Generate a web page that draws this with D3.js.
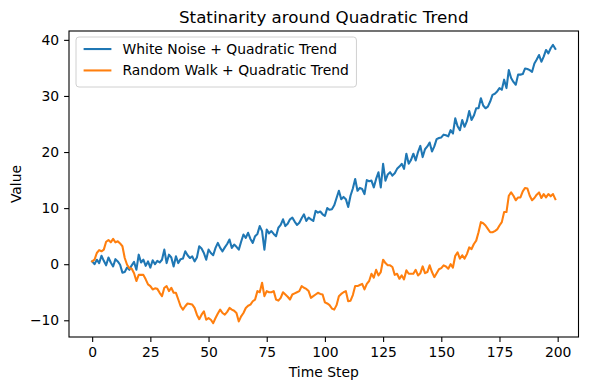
<!DOCTYPE html>
<html>
<head>
<meta charset="utf-8">
<script src="https://cdn.jsdelivr.net/npm/d3@7"></script>
<style>
  html, body { margin: 0; padding: 0; background: #fff; }
  svg { display: block; font-family: "DejaVu Sans", sans-serif; }
</style>
</head>
<body>
<svg id="chart" width="590" height="390"></svg>
<script>
// ---------- DATA ----------
const timeSteps = d3.range(0, 200);

const whiteNoiseQuadratic = [
  0.5, 0.0, 0.8, 0.2, 1.5, 0.6, -0.2, 1.2, 0.3, -0.4,
  0.9, 0.5, -0.1, -1.5, -1.4, -0.6, -1.0, -0.2, 0.4, -1.0,
  1.7, 0.3, 0.8, -0.3, 0.5, -0.6, 0.7, 0.0, 0.6, 0.3,
  0.8, 2.6, 0.2, 1.7, 1.2, -0.4, 1.4, 0.2, 0.9, 1.0,
  2.3, 1.6, 1.1, 1.4, 0.5, 1.2, 3.2, 2.8, 2.0, 0.8,
  2.6, 2.0, 1.6, 2.9, 3.8, 2.9, 2.3, 3.0, 3.6, 4.4,
  2.9, 3.5, 3.1, 2.6, 4.0, 5.3, 4.7, 5.6, 4.5, 3.8,
  5.0, 5.4, 6.8, 5.9, 2.6, 6.2, 5.5, 5.9, 5.4, 5.0,
  6.5, 7.0, 8.0, 6.8, 7.2, 8.0, 8.3, 7.6, 7.0, 7.4,
  8.2, 8.9, 7.7, 8.3, 8.0, 7.7, 9.5, 9.2, 9.4, 8.9,
  8.6, 10.0, 9.7, 9.8, 10.5, 11.8, 13.1, 11.6, 12.0, 11.6,
  10.2, 12.2, 13.5, 15.2, 13.1, 13.6, 13.4, 12.5, 15.0, 14.8,
  14.9, 13.7, 15.2, 16.4, 13.7, 17.9, 14.9, 16.0, 16.4, 15.8,
  16.2, 17.0, 17.4, 17.9, 17.0, 19.7, 17.9, 18.6, 19.7, 18.5,
  20.0, 21.1, 19.1, 20.5, 21.0, 21.7, 20.1, 21.0, 22.3, 22.5,
  22.6, 23.1, 23.0, 22.8, 23.9, 23.3, 26.0, 24.6, 23.9, 25.7,
  24.5, 25.5, 27.3, 25.7, 26.5, 27.8, 27.8, 29.6, 28.3, 27.8,
  28.1, 29.0, 30.2, 30.4, 30.8, 31.4, 31.1, 32.9, 31.4, 34.6,
  33.2, 32.5, 32.0, 33.8, 33.8, 33.9, 34.9, 34.8, 34.6, 34.3,
  35.8, 36.5, 37.3, 36.1, 37.0, 38.2, 37.6, 38.5, 39.1, 38.4
];

const randomWalkQuadratic = [
  0.5, 0.8, 2.0, 2.5, 2.3, 2.6, 4.0, 4.3, 3.9, 4.5,
  3.9, 4.1, 3.7, 3.2, 1.1, -0.1, -0.7, -0.8, -1.6, -3.0,
  -1.9, -1.9, -1.9, -2.7, -3.6, -3.9, -4.5, -4.3, -4.4, -5.1,
  -5.7, -4.2, -3.9, -4.8, -4.2, -5.1, -5.1, -6.3, -7.5, -8.1,
  -7.5, -7.0, -7.1, -7.2, -7.8, -9.0, -9.8, -9.0, -8.4, -9.9,
  -9.6, -9.9, -10.5, -9.6, -8.8, -8.1, -8.7, -9.0, -8.5, -7.8,
  -8.1, -8.3, -8.7, -10.2, -9.3, -8.7, -7.8, -7.4, -7.2, -6.6,
  -6.3, -4.8, -5.0, -3.3, -5.7, -4.8, -5.0, -5.0, -4.8, -6.3,
  -6.5, -6.0, -5.0, -5.4, -5.8, -6.3, -5.4, -5.2, -5.0, -4.8,
  -3.9, -4.2, -4.4, -4.8, -6.0, -5.7, -5.4, -5.1, -5.3, -5.4,
  -6.8, -7.0, -7.3, -7.9, -8.1, -7.3, -5.7, -5.3, -5.0, -4.8,
  -6.6, -6.5, -5.5, -3.9, -3.9, -3.7, -3.5, -4.5, -3.5, -3.0,
  -1.7, -2.4, -1.0, -2.0, -1.4, 0.8, 0.2, -0.2, -0.2, -0.5,
  -1.9, -1.7, -2.6, -2.0, -2.7, -1.1, -1.7, -1.7, -1.7, -1.0,
  -2.0, -1.6, -0.4, -1.6, -1.4, -0.2, -1.4, -2.3, -1.6, -0.9,
  -0.7, -0.2, -0.4, -0.8, 0.0, -0.6, 1.5, 2.1, 1.0, 1.6,
  1.0, 1.8, 3.0, 2.7, 3.6, 4.2, 5.7, 7.5, 7.3, 6.9,
  6.3, 5.7, 5.7, 5.9, 6.2, 6.9, 7.5, 9.3, 9.3, 12.2,
  12.8, 12.2, 11.4, 11.9, 11.9, 13.0, 13.6, 13.5, 12.2, 11.4,
  11.8, 12.4, 12.8, 11.8, 12.5, 11.9, 12.5, 12.1, 12.5, 11.6
];

const seriesNames = ["White Noise + Quadratic Trend", "Random Walk + Quadratic Trend"];
const seriesColors = ["#1f77b4", "#ff7f0e"];
const xTickValues = [0, 25, 50, 75, 100, 125, 150, 175, 200];
const yTickValues = [-10, 0, 10, 20, 30, 40];
const titleText = "Statinarity around Quadratic Trend";
const xLabelText = "Time Step";
const yLabelText = "Value";

// ---------- LAYOUT ----------
const svg = d3.select("#chart");
const mLeft = 69, mRight = 578.5, mTop = 31, mBottom = 337;
const fontPx = 13.9;

const allVals = whiteNoiseQuadratic.concat(randomWalkQuadratic);
const yMin = d3.min(allVals), yMax = d3.max(allVals);
const yPad = (yMax - yMin) * 0.05;
const xMin = d3.min(timeSteps), xMax = d3.max(timeSteps);
const xPad = (xMax - xMin) * 0.05;

const x = d3.scaleLinear().domain([xMin - xPad, xMax + xPad]).range([mLeft, mRight]);
const y = d3.scaleLinear().domain([yMin - yPad, yMax + yPad]).range([mBottom, mTop]);

// lines
const seriesData = [whiteNoiseQuadratic, randomWalkQuadratic];
const line = d3.line().x((d, i) => x(timeSteps[i])).y(d => y(d));
svg.append("clipPath").attr("id", "clip").append("rect")
  .attr("x", mLeft).attr("y", mTop).attr("width", mRight - mLeft).attr("height", mBottom - mTop);
seriesData.forEach((s, k) => {
  svg.append("path").datum(s)
    .attr("d", line)
    .attr("fill", "none")
    .attr("stroke", seriesColors[k])
    .attr("stroke-width", 2.08)
    .attr("stroke-linejoin", "round")
    .attr("stroke-linecap", "square")
    .attr("clip-path", "url(#clip)");
});

// axes
const xAxis = d3.axisBottom(x).tickValues(xTickValues).tickSize(4.9).tickPadding(4.9).tickFormat(d3.format("d"));
const yAxis = d3.axisLeft(y).tickValues(yTickValues).tickSize(4.9).tickPadding(4.9)
  .tickFormat(d => d < 0 ? "\u2212" + Math.abs(d) : String(d));

const gx = svg.append("g").attr("transform", `translate(0,${mBottom})`).call(xAxis);
const gy = svg.append("g").attr("transform", `translate(${mLeft},0)`).call(yAxis);
[gx, gy].forEach(g => {
  g.select(".domain").remove();
  g.selectAll(".tick line").attr("stroke", "#000").attr("stroke-width", 1.1);
  g.selectAll(".tick text").attr("fill", "#000").style("font-size", fontPx + "px")
    .style("font-family", "'DejaVu Sans', sans-serif");
});

// frame
svg.append("rect").attr("x", mLeft).attr("y", mTop).attr("width", mRight - mLeft).attr("height", mBottom - mTop)
  .attr("fill", "none").attr("stroke", "#000").attr("stroke-width", 1.1);

// title & labels
svg.append("text").attr("x", (mLeft + mRight) / 2).attr("y", 22.5).attr("text-anchor", "middle")
  .style("font-size", "16.7px").attr("fill", "#000").text(titleText);
svg.append("text").attr("x", (mLeft + mRight) / 2).attr("y", 377).attr("text-anchor", "middle")
  .style("font-size", fontPx + "px").attr("fill", "#000").text(xLabelText);
svg.append("text").attr("transform", `translate(20.5,${(mTop + mBottom) / 2}) rotate(-90)`)
  .attr("text-anchor", "middle").style("font-size", fontPx + "px").attr("fill", "#000").text(yLabelText);

// legend
const lg = svg.append("g");
const lx = mLeft + 7, ly = mTop + 6;
const bp = 5.6, handleLen = 27.8, handlePad = 11.1, rowGap = 7;
const box = lg.append("rect");
let maxW = 0;
seriesNames.forEach((name, k) => {
  const cy = ly + bp + fontPx / 2 - 0.5 + k * (fontPx + rowGap + 0.5);
  lg.append("line").attr("x1", lx + bp + 2).attr("x2", lx + bp + 2 + handleLen)
    .attr("y1", cy).attr("y2", cy).attr("stroke", seriesColors[k]).attr("stroke-width", 2.08);
  const t = lg.append("text").attr("x", lx + bp + 2 + handleLen + handlePad).attr("y", cy)
    .attr("dy", "0.36em").style("font-size", fontPx + "px").attr("fill", "#000").text(name);
  maxW = Math.max(maxW, t.node().getComputedTextLength());
});
const boxW = bp + 2 + handleLen + handlePad + maxW + bp + 2;
const boxH = bp * 2 + fontPx * 2 + rowGap + 4;
box.attr("x", lx).attr("y", ly).attr("width", boxW).attr("height", boxH)
  .attr("rx", 3).attr("fill", "rgba(255,255,255,0.8)").attr("stroke", "#d0d0d0").attr("stroke-width", 1);
</script>
</body>
</html>
